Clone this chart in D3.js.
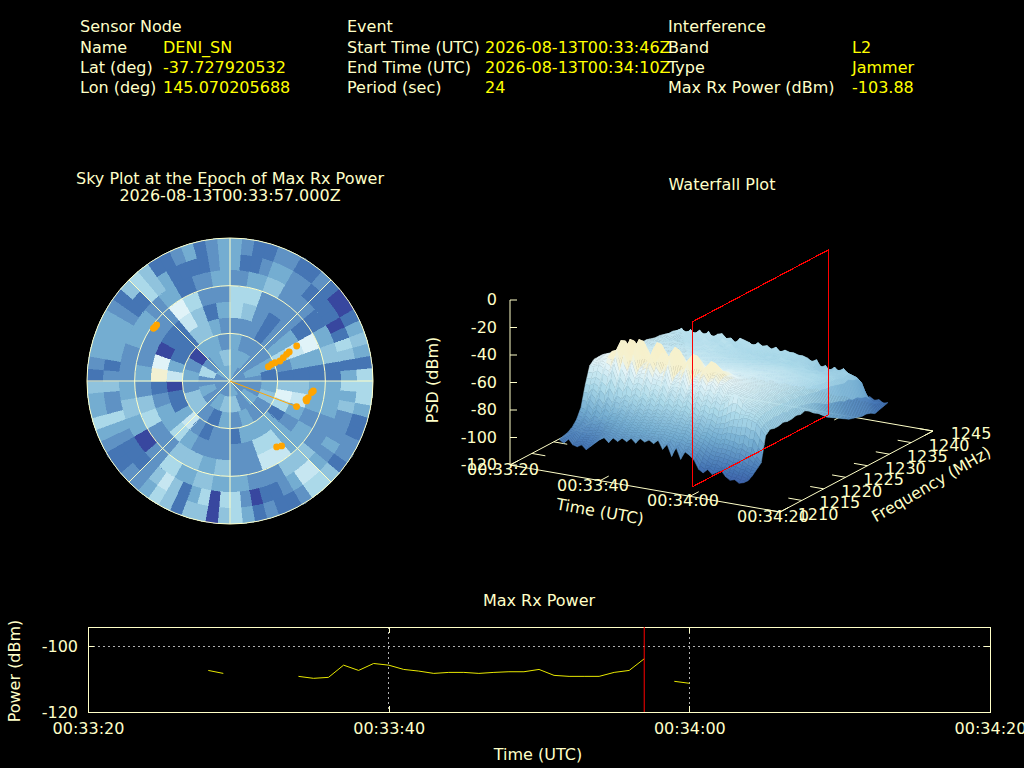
<!DOCTYPE html>
<html>
<head>
<meta charset="utf-8">
<script src="https://d3js.org/d3.v7.min.js"></script>
<style>
  html, body { margin: 0; padding: 0; background: #000; overflow: hidden; }
  text { font-family: "DejaVu Sans", sans-serif; font-size: 16px; fill: #ffffc8; }
  .value { fill: #ffff00; }
  .axis path, .axis line { stroke: #ffffc8; shape-rendering: crispEdges; }
</style>
</head>
<body>
<svg id="chart" width="1024" height="768"></svg>
<script>
// header
const nodeLabels = ["Name", "Lat (deg)", "Lon (deg)"];
const nodeValues = ["DENI_SN", "-37.727920532", "145.070205688"];
const eventLabels = ["Start Time (UTC)", "End Time (UTC)", "Period (sec)"];
const eventValues = ["2026-08-13T00:33:46Z", "2026-08-13T00:34:10Z", "24"];
const interfLabels = ["Band", "Type", "Max Rx Power (dBm)"];
const interfValues = ["L2", "Jammer", "-103.88"];

// sky plot: one row per elevation ring (centre first), cells get narrower towards the rim
const skyLevels = [
  [3,2,2,2,2,3,2,2,2,2,3,3],
  [3,3,2,3,2,2,3,2,4,4,3,2,3,2,5,2,3,4],
  [3,2,2,2,3,1,3,4,2,2,3,2,3,1,2,4,4,2,3,2,0,3,3,2],
  [2,2,2,1,2,3,5,2,1, 4,7,5,1,3,3,3,3,1, 2,2,1,2,6,3,1,1,0, 6,3,1,1,1,4,4,3,2],
  [5,4,2,1,2,3,6,3,1, 4,6,3,2,3,5,5,2,2, 2,2,2,3,5,3,3,2,1, 8,7,0,1,1,6,4,1,3],
  [5,5,2,2,2,1,7,3,1, 3,3,2,3,3,6,6,2,2, 4,3,4,4,2,2,5,4,2, 3,2,2,2,2,7,5,2,2],
  [2,3,4,2,2,1,3,4,1, 3,3,2,2,4,4,2,2,3, 3,4,3,5,2,0,3,4,3, 2,2,3,3,2,3,1,2,3],
  [3,1,1,2,3,3,2,2,1,1,1,1,0,1,5,4,1,3, 5,3,4,2,2,2,3,2,3,6,6,3,2,1,1,0,2,5, 5,0,5,3,1,4,6,4,2,1,1,1,2,3,5,2,2,4, 2,1,3,3,3,3,2,1,1,5,4,3,1,1,1,1,2,3],
  [3,2,1,1,2,2,1,1,2,1,0,0,1,3,4,3,1,5, 5,5,3,1,1,2,2,1,4,5,5,2,1,1,2,1,3,5, 4,0,4,4,1,4,5,3,2,2,1,1,2,3,5,3,3,4, 1,2,3,3,3,3,2,1,4,5,4,1,1,2,3,1,2,3]
];
const skyColors = ["#38479f", "#4575b4", "#5f92c4", "#74add1", "#90c3dd", "#abd9e9", "#c6e6f1", "#e0f3f8", "#f2f0d2"];

// satellites on the sky plot
const satAzimuth = [69.5, 68.2, 67.8, 68.2, 66.4, 64.8, 63.9, 62.3, 111, 103.6, 104.6, 102, 98.1, 96.8, 144.7, 141.5, 305.8, 307.4, 304.5];
const satElevation = [64.2, 61.8, 59.4, 56.1, 53.4, 50.6, 48.5, 42.6, 45.1, 40.8, 40.2, 39.7, 38.1, 37.2, 39.2, 37.8, 31.9, 31.9, 31.5];
const jammerAzimuth = 111;
const jammerElevation = 45.1;

// waterfall: seconds after 00:33:20, frequencies in MHz, PSD in dBm (one row per second)
const psdSeconds = [8,9,10,11,12,13,14,15,16,17,18,19,20,21,22,23,24,25,26,27,28,29,30,31,32,33,34,35,36,37,38,39,40,41,42,43,44,45,46,47,48,49,50];
const psdFrequencies = [1213,1214,1215,1216,1217,1218,1219,1220,1221,1222,1223,1224,1225,1226,1227,1228,1229,1230,1231,1232,1233,1234,1235,1236,1237,1238,1239,1240,1241,1242,1243,1244,1245];
const psdRows = [
  [-102,-101,-100,-98,-94,-87,-72,-60,-57,-57,-57,-58, -59,-59,-60,-60,-61,-62,-62,-63,-63,-64,-65,-65,-66,-67,-67,-69,-71,-84,-98,-102,-103],
  [-104,-103,-101,-99,-95,-88,-72,-60,-58,-57,-57,-58, -58,-60,-59,-61,-60,-63,-62,-64,-64,-66,-65,-67,-65,-68,-66,-66,-72,-82,-97,-103,-102],
  [-100,-99,-98,-95,-90,-80,-70,-58,-56,-54,-55,-57, -59,-58,-60,-60,-62,-61,-63,-65,-64,-66,-66,-68,-67,-65,-69,-70,-68,-80,-95,-102,-104],
  [-104,-103,-100,-97,-93,-84,-72,-60,-56,-56,-57,-59, -59,-60,-61,-61,-62,-62,-64,-64,-65,-65,-67,-67,-68,-70,-66,-67,-71,-83,-98,-100,-103],
  [-105,-103,-100,-96,-89,-78,-62,-52,-49,-50,-53,-56, -58,-60,-60,-62,-61,-63,-62,-64,-65,-66,-65,-68,-69,-66,-71,-68,-69,-78,-96,-101,-103],
  [-103,-102,-100,-96,-91,-82,-64,-53,-50,-50,-54,-58, -59,-59,-61,-60,-62,-62,-64,-63,-65,-67,-66,-68,-67,-70,-67,-65,-71,-81,-94,-103,-105],
  [-106,-103,-99,-94,-87,-76,-58,-45,-40,-42,-49,-56, -58,-60,-60,-61,-63,-61,-64,-63,-66,-65,-68,-67,-70,-66,-69,-70,-67,-82,-97,-103,-102],
  [-103,-101,-98,-95,-89,-80,-66,-58,-55,-55,-57,-58, -59,-59,-61,-62,-61,-63,-62,-65,-64,-67,-66,-68,-67,-71,-68,-66,-72,-80,-96,-101,-104],
  [-100,-98,-95,-91,-85,-74,-56,-43,-38,-41,-49,-56, -58,-60,-60,-62,-62,-63,-65,-64,-66,-65,-68,-67,-69,-65,-71,-69,-68,-79,-94,-102,-104],
  [-97,-96,-94,-90,-85,-76,-62,-50,-45,-47,-53,-58, -59,-60,-61,-60,-62,-63,-64,-65,-65,-67,-66,-69,-66,-70,-68,-71,-67,-84,-97,-103,-101],
  [-95,-94,-91,-87,-81,-72,-54,-42,-37,-40,-48,-56, -58,-59,-61,-61,-63,-62,-64,-66,-65,-68,-67,-66,-70,-67,-72,-68,-70,-83,-96,-101,-103],
  [-98,-95,-92,-88,-83,-74,-62,-56,-54,-54,-56,-57, -59,-60,-60,-62,-62,-64,-63,-65,-66,-66,-69,-67,-68,-71,-66,-72,-69,-81,-95,-102,-104],
  [-94,-92,-89,-85,-79,-70,-60,-54,-53,-53,-55,-56, -58,-60,-61,-61,-63,-63,-65,-64,-66,-67,-66,-69,-67,-72,-68,-69,-72,-80,-95,-103,-102],
  [-96,-93,-90,-86,-81,-73,-61,-50,-46,-48,-53,-58, -59,-59,-61,-62,-62,-64,-64,-65,-65,-68,-67,-68,-71,-68,-70,-73,-68,-82,-96,-100,-103],
  [-93,-92,-88,-84,-78,-68,-53,-41,-37,-40,-48,-56, -58,-60,-60,-62,-63,-63,-65,-66,-67,-66,-69,-68,-70,-67,-73,-70,-69,-81,-97,-102,-104],
  [-95,-92,-89,-85,-80,-72,-59,-48,-44,-46,-52,-57, -59,-60,-61,-61,-63,-64,-64,-66,-66,-68,-68,-70,-68,-72,-69,-71,-70,-84,-96,-101,-103],
  [-92,-91,-87,-83,-77,-67,-60,-55,-53,-54,-56,-56, -58,-59,-61,-62,-62,-65,-65,-65,-67,-67,-69,-69,-71,-69,-73,-68,-72,-79,-95,-103,-102],
  [-95,-91,-88,-84,-79,-71,-60,-50,-46,-47,-53,-58, -59,-60,-60,-63,-63,-64,-66,-66,-66,-69,-68,-70,-69,-73,-70,-71,-69,-81,-96,-100,-103],
  [-91,-90,-87,-82,-76,-66,-52,-41,-38,-42,-49,-56, -58,-60,-61,-62,-64,-65,-65,-67,-67,-68,-70,-69,-72,-70,-73,-69,-71,-82,-97,-102,-104],
  [-93,-90,-87,-83,-78,-70,-62,-57,-55,-55,-57,-58, -59,-59,-61,-63,-63,-65,-66,-66,-68,-68,-69,-71,-69,-74,-70,-72,-70,-83,-95,-103,-102],
  [-91,-90,-86,-81,-75,-65,-60,-55,-54,-54,-56,-56, -58,-60,-62,-62,-64,-64,-66,-67,-67,-69,-70,-70,-72,-70,-73,-70,-72,-85,-96,-101,-103],
  [-93,-90,-86,-82,-77,-69,-58,-49,-46,-48,-54,-58, -59,-60,-61,-63,-63,-65,-65,-67,-68,-68,-70,-71,-70,-74,-71,-73,-70,-80,-97,-102,-104],
  [-90,-89,-85,-80,-74,-64,-51,-43,-41,-44,-50,-56, -58,-59,-62,-62,-64,-64,-66,-66,-68,-69,-69,-71,-72,-71,-74,-70,-73,-82,-97,-102,-104],
  [-96,-90,-86,-82,-76,-68,-61,-57,-55,-55,-57,-58, -59,-60,-61,-63,-63,-65,-65,-67,-67,-69,-70,-70,-73,-71,-73,-72,-71,-81,-98,-102,-104],
  [-92,-90,-86,-80,-74,-64,-60,-56,-54,-55,-56,-57, -58,-60,-62,-62,-64,-64,-66,-67,-68,-68,-70,-71,-71,-74,-70,-74,-72,-83,-96,-100,-102],
  [-100,-92,-87,-82,-77,-68,-58,-50,-48,-50,-55,-58, -59,-59,-61,-63,-63,-65,-66,-66,-68,-69,-69,-71,-72,-70,-75,-71,-72,-83,-96,-103,-102],
  [-93,-91,-86,-81,-74,-64,-53,-46,-44,-47,-52,-57, -58,-60,-62,-62,-64,-64,-65,-67,-67,-69,-70,-71,-72,-72,-73,-74,-73,-81,-95,-102,-103],
  [-101,-93,-88,-83,-77,-68,-58,-52,-50,-52,-55,-59, -59,-60,-61,-63,-63,-65,-66,-66,-68,-68,-70,-70,-73,-71,-75,-72,-73,-80,-95,-101,-103],
  [-95,-93,-88,-82,-75,-65,-56,-51,-50,-52,-54,-58, -60,-60,-62,-62,-64,-65,-65,-67,-67,-69,-70,-71,-72,-74,-72,-75,-74,-84,-97,-102,-104],
  [-97,-95,-90,-85,-78,-68,-60,-55,-53,-54,-56,-59, -60,-61,-61,-63,-63,-65,-66,-66,-68,-68,-70,-71,-73,-71,-75,-73,-76,-85,-97,-103,-103],
  [-100,-96,-91,-85,-77,-65,-57,-56,-55,-56,-57,-59, -60,-60,-62,-62,-64,-65,-65,-67,-67,-69,-70,-72,-71,-75,-73,-76,-74,-86,-98,-103,-105],
  [-106,-99,-93,-87,-80,-68,-62,-59,-57,-58,-59,-60, -61,-61,-62,-63,-63,-65,-66,-66,-68,-69,-70,-71,-73,-72,-77,-74,-79,-86,-98,-104,-104],
  [-108,-101,-95,-88,-79,-65,-60,-59,-58,-58,-59,-60, -61,-62,-62,-64,-65,-65,-66,-67,-68,-69,-71,-71,-74,-76,-75,-80,-77,-88,-99,-104,-103],
  [-105,-103,-96,-89,-78,-62,-61,-60,-59,-60,-60,-61, -62,-62,-63,-64,-64,-66,-67,-67,-69,-70,-71,-72,-74,-75,-78,-76,-81,-89,-100,-103,-105],
  [-108,-102,-96,-87,-76,-58,-62,-61,-60,-60,-61,-61, -62,-63,-63,-65,-65,-66,-67,-68,-69,-70,-72,-73,-73,-77,-75,-79,-77,-90,-100,-103,-105],
  [-106,-104,-96,-88,-74,-59,-63,-62,-61,-61,-62,-62, -63,-63,-64,-65,-66,-67,-67,-68,-70,-71,-71,-74,-75,-74,-78,-76,-80,-90,-101,-105,-104],
  [-104,-103,-97,-88,-74,-64,-63,-63,-62,-62,-63,-63, -64,-65,-65,-66,-66,-67,-68,-69,-70,-70,-72,-73,-75,-76,-75,-78,-77,-90,-100,-103,-105],
  [-108,-105,-98,-90,-72,-67,-65,-64,-64,-64,-64,-64, -65,-65,-66,-67,-67,-68,-69,-69,-71,-71,-73,-74,-75,-75,-77,-76,-80,-91,-101,-105,-104],
  [-110,-104,-98,-88,-72,-67,-66,-65,-65,-65,-66,-66, -66,-67,-67,-68,-68,-69,-70,-70,-71,-72,-73,-73,-75,-76,-75,-78,-81,-92,-101,-104,-103],
  [-109,-106,-99,-91,-73,-69,-68,-67,-67,-67,-68,-68, -68,-69,-69,-70,-70,-71,-71,-72,-73,-73,-75,-75,-76,-77,-76,-79,-82,-93,-102,-105,-105],
  [-111,-105,-101,-90,-74,-71,-70,-70,-69,-70,-70,-71, -70,-72,-71,-73,-73,-74,-75,-75,-76,-76,-77,-78,-79,-78,-80,-81,-85,-95,-102,-105,-104],
  [-110,-107,-102,-96,-78,-75,-75,-74,-75,-74,-76,-75, -76,-76,-77,-78,-79,-81,-83,-85,-86,-87,-88,-90,-90,-92,-92,-94,-95,-99,-103,-104,-106],
  [-108,-106,-103,-100,-82,-79,-80,-80,-79,-80,-80,-79, -80,-79,-81,-84,-86,-89,-92,-94,-96,-98,-100,-102,-103,-104,-105,-105,-106,-108,-107,-106,-105]
];

// max rx power: seconds after 00:33:20, null where no power was found
const powerSeconds = [8, 9, 10, 13, 14, 15, 16, 17, 18, 19, 20, 21, 22, 23, 24, 25, 26, 27, 28, 29, 30, 31, 32, 33, 34, 35, 36, 37, 38, 39, 40];
const powerValues = [-107.4, -108.3, null, null, -109.2, -109.8, -109.5, -105.8, -107.4, -105.3, -105.8, -107.1, -107.6, -108.3, -108, -108, -108.3, -108, -107.8, -107.8, -107.1, -108.9, -109.2, -109.2, -109.2, -108, -107.4, -103.88, null, -110.7, -111.3];

const timeTickSeconds = [0, 20, 40, 60];
const timeTickLabels = ["00:33:20", "00:33:40", "00:34:00", "00:34:20"];
const freqTicks = [1210, 1215, 1220, 1225, 1230, 1235, 1240, 1245];
const psdTicks = [0, -20, -40, -60, -80, -100, -120];
const powerTicks = [-100, -120];
const peakSecond = 37;

const textColor = "#ffffc8";
const svg = d3.select("#chart");

function drawColumn(x, y, title, labels, values, valueX) {
    svg.append("text").attr("x", x).attr("y", y).text(title);
    labels.forEach((d, i) => {
        svg.append("text").attr("x", x).attr("y", y + 20.3 * (i + 1) + 0.5).text(d);
        svg.append("text").attr("x", valueX).attr("y", y + 20.3 * (i + 1) + 0.5)
            .classed("value", true).text(values[i]);
    });
}

function drawHeader() {
    drawColumn(80, 32, "Sensor Node", nodeLabels, nodeValues, 163);
    drawColumn(347, 32, "Event", eventLabels, eventValues, 485);
    drawColumn(668, 32, "Interference", interfLabels, interfValues, 852);
}

function drawSky() {
    let cx = 230, cy = 381, radius = 143;
    let g = svg.append("g").attr("transform", "translate(" + cx + "," + cy + ")");
    let rScale = d3.scaleLinear().domain([90, 0]).range([0, radius]);
    let ringStep = 10;
    let arc = d3.arc();

    // backing disc so the crisp cells leave no black specks
    g.append("circle").attr("r", radius).attr("fill", skyColors[2]);

    skyLevels.forEach((row, i) => {
        let sectorStep = 2 * Math.PI / row.length;
        row.forEach((level, j) => {
            g.append("path")
                .attr("d", arc({
                    innerRadius: rScale(90 - i * ringStep),
                    outerRadius: rScale(90 - (i + 1) * ringStep),
                    startAngle: j * sectorStep,
                    endAngle: (j + 1) * sectorStep
                }))
                .attr("fill", skyColors[level])
                .attr("stroke", skyColors[level])
                .attr("stroke-width", 0.6)
                .attr("shape-rendering", "crispEdges");
        });
    });

    [60, 30, 0].forEach(el => {
        g.append("circle").attr("r", rScale(el))
            .attr("fill", "none").attr("stroke", textColor);
    });
    d3.range(0, 360, 45).forEach(az => {
        let a = az * Math.PI / 180;
        g.append("line")
            .attr("x2", radius * Math.sin(a)).attr("y2", -radius * Math.cos(a))
            .attr("stroke", textColor);
    });

    let skyPoint = (az, el) => [rScale(el) * Math.sin(az * Math.PI / 180), -rScale(el) * Math.cos(az * Math.PI / 180)];
    let jam = skyPoint(jammerAzimuth, jammerElevation);
    g.append("line").attr("x2", jam[0]).attr("y2", jam[1])
        .attr("stroke", "#ffa500").attr("stroke-width", 1);
    satAzimuth.forEach((az, i) => {
        let p = skyPoint(az, satElevation[i]);
        g.append("circle").attr("cx", p[0]).attr("cy", p[1]).attr("r", 3.4).attr("fill", "#ffa500");
    });

    svg.append("text").attr("x", cx).attr("y", 184).attr("text-anchor", "middle")
        .text("Sky Plot at the Epoch of Max Rx Power");
    svg.append("text").attr("x", cx).attr("y", 201).attr("text-anchor", "middle")
        .text("2026-08-13T00:33:57.000Z");
}

function drawWaterfall() {
    let g = svg.append("g");
    // floor corner is (510,465); time runs to (780,512), frequency to (663,384)
    let tx = d3.scaleLinear().domain([0, 60]).range([0, 270]);
    let ty = d3.scaleLinear().domain([0, 60]).range([0, 47]);
    let fx = d3.scaleLinear().domain([1210, 1245]).range([0, 153]);
    let fy = d3.scaleLinear().domain([1210, 1245]).range([0, -81]);
    let zy = d3.scaleLinear().domain([-120, 0]).range([0, -165]);
    let project = (t, f, z) => [510 + tx(t) + fx(f), 465 + ty(t) + fy(f) + zy(z)];
    let color = d3.scaleLinear()
        .domain([-125, -105, -88, -72, -62, -56, -52, -40])
        .range(["#313695", "#4575b4", "#74add1", "#abd9e9", "#cfebf3", "#e6f5f8", "#f5f1d0", "#f8f0c8"])
        .clamp(true);
    let line3d = d3.line();

    // floor
    let floor = [[0, 1210], [60, 1210], [60, 1245], [0, 1245], [0, 1210]].map(d => project(d[0], d[1], -120));
    g.append("path").attr("d", line3d(floor)).attr("fill", "none").attr("stroke", textColor);

    // ticks on the floor
    timeTickSeconds.forEach((t, i) => {
        g.append("path").attr("d", line3d([project(t, 1210, -120), project(t, 1212, -120)]))
            .attr("stroke", textColor);
        g.append("path").attr("d", line3d([project(t, 1245, -120), project(t, 1243, -120)]))
            .attr("stroke", textColor);
        let p = project(t, 1210, -120);
        g.append("text").attr("x", p[0] - 7).attr("y", p[1] + 10).attr("text-anchor", "middle")
            .text(timeTickLabels[i]);
    });
    freqTicks.forEach(f => {
        g.append("path").attr("d", line3d([project(60, f, -120), project(57, f, -120)]))
            .attr("stroke", textColor);
        g.append("path").attr("d", line3d([project(0, f, -120), project(3, f, -120)]))
            .attr("stroke", textColor);
        let p = project(60, f, -120);
        g.append("text").attr("x", p[0] + 38).attr("y", p[1] + 8).attr("text-anchor", "middle")
            .text(f);
    });

    // z axis
    g.append("path").attr("d", line3d([project(0, 1210, -120), project(0, 1210, 0)]))
        .attr("stroke", textColor);
    psdTicks.forEach(z => {
        let p = project(0, 1210, z);
        g.append("line").attr("x1", p[0]).attr("x2", p[0] + 7)
            .attr("y1", p[1]).attr("y2", p[1]).attr("stroke", textColor);
        g.append("text").attr("x", p[0] - 13).attr("y", p[1] + 5).attr("text-anchor", "end").text(z);
    });

    // surface, back to front; each quad is split along frequency to shade it smoothly
    let shadeSteps = 3;
    psdSeconds.forEach((t, i) => {
        if (i == psdSeconds.length - 1) return;
        for (let j = psdFrequencies.length - 2; j >= 0; j--) {
            for (let s = shadeSteps - 1; s >= 0; s--) {
                let a = s / shadeSteps, b = (s + 1) / shadeSteps;
                let f0 = psdFrequencies[j], f1 = psdFrequencies[j + 1];
                let corner = (row, w) => {
                    let z = psdRows[row][j] * (1 - w) + psdRows[row][j + 1] * w;
                    return [psdSeconds[row], f0 * (1 - w) + f1 * w, z];
                };
                let quad = [corner(i, a), corner(i + 1, a), corner(i + 1, b), corner(i, b)];
                let fill = color(d3.mean(quad, d => d[2]));
                g.append("path").attr("d", line3d(quad.map(d => project(d[0], d[1], d[2]))) + "Z")
                    .attr("fill", fill).attr("stroke", fill).attr("stroke-width", 0.5);
            }
        }
    });

    // plane at the epoch of max power
    let plane = [[1213.2, -120], [1244.3, -120], [1244.3, 0], [1213.2, 0], [1213.2, -120]]
        .map(d => project(peakSecond + 0.4, d[0], d[1]));
    g.append("path").attr("d", line3d(plane)).attr("fill", "none").attr("stroke", "#ff0000")
        .attr("stroke-width", 1.2).attr("shape-rendering", "crispEdges");

    svg.append("text").attr("x", 722).attr("y", 190).attr("text-anchor", "middle").text("Waterfall Plot");
    svg.append("text").attr("transform", "translate(438,380) rotate(-90)").attr("text-anchor", "middle").text("PSD (dBm)");
    svg.append("text").attr("transform", "translate(599,517) rotate(10)").attr("text-anchor", "middle").text("Time (UTC)");
    svg.append("text").attr("transform", "translate(934,489) rotate(-30)").attr("text-anchor", "middle").text("Frequency (MHz)");
}

function drawPower() {
    let left = 88, right = 990, top = 627, bottom = 712;
    let xScale = d3.scaleLinear().domain([0, 60]).range([left, right]);
    let yScale = d3.scaleLinear().domain([-120, -94.24]).range([bottom, top]);

    // grid
    timeTickSeconds.slice(1, 3).forEach(t => {
        svg.append("line").attr("x1", xScale(t)).attr("x2", xScale(t)).attr("y1", top).attr("y2", bottom)
            .attr("stroke", "#b0b0b0").attr("stroke-dasharray", "2,3").attr("shape-rendering", "crispEdges");
    });
    svg.append("line").attr("x1", left).attr("x2", right).attr("y1", yScale(-100)).attr("y2", yScale(-100))
        .attr("stroke", "#b0b0b0").attr("stroke-dasharray", "2,3").attr("shape-rendering", "crispEdges");

    let fmt = t => timeTickLabels[timeTickSeconds.indexOf(t)];
    let xAxis = d3.axisBottom(xScale).tickValues(timeTickSeconds).tickFormat(fmt).tickSizeInner(-6).tickSizeOuter(0).tickPadding(11);
    let xTop = d3.axisTop(xScale).tickValues(timeTickSeconds).tickFormat("").tickSizeInner(-6).tickSizeOuter(0);
    let yAxis = d3.axisLeft(yScale).tickValues(powerTicks).tickFormat(d => "" + d).tickSizeInner(-6).tickSizeOuter(0).tickPadding(10);
    let yRight = d3.axisRight(yScale).tickValues(powerTicks).tickFormat("").tickSizeInner(-6).tickSizeOuter(0);

    svg.append("g").classed("axis", true).attr("transform", "translate(0," + bottom + ")").call(xAxis);
    svg.append("g").classed("axis", true).attr("transform", "translate(0," + top + ")").call(xTop);
    svg.append("g").classed("axis", true).attr("transform", "translate(" + left + ",0)").call(yAxis);
    svg.append("g").classed("axis", true).attr("transform", "translate(" + right + ",0)").call(yRight);
    svg.selectAll(".axis text").style("font-size", "16px").style("font-family", "'DejaVu Sans', sans-serif");

    let line = d3.line()
        .defined((d, i) => powerValues[i] !== null)
        .x((d, i) => xScale(powerSeconds[i]))
        .y((d, i) => yScale(powerValues[i]));
    svg.append("path").attr("d", line(powerValues))
        .attr("fill", "none").attr("stroke", "#e8e800").attr("stroke-width", 1);

    svg.append("line").attr("x1", xScale(peakSecond)).attr("x2", xScale(peakSecond))
        .attr("y1", top).attr("y2", bottom).attr("stroke", "#ff0000");

    svg.append("text").attr("x", 539).attr("y", 606).attr("text-anchor", "middle").text("Max Rx Power");
    svg.append("text").attr("x", 538).attr("y", 760).attr("text-anchor", "middle").text("Time (UTC)");
    svg.append("text").attr("transform", "translate(20,671) rotate(-90)").attr("text-anchor", "middle").text("Power (dBm)");
}

drawHeader();
drawSky();
drawWaterfall();
drawPower();
</script>
</body>
</html>
